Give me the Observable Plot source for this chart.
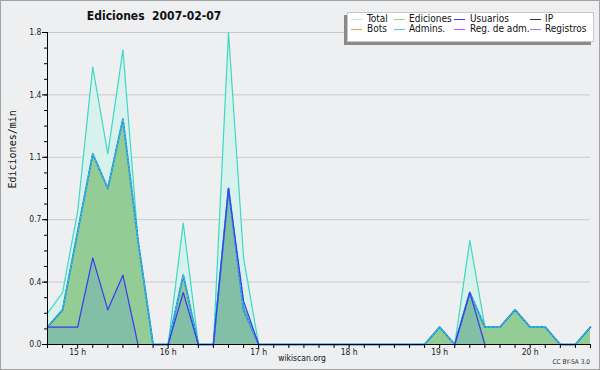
<!DOCTYPE html>
<html>
<head>
<meta charset="utf-8">
<script src="https://cdn.jsdelivr.net/npm/d3@7"></script>
<script src="https://cdn.jsdelivr.net/npm/@observablehq/plot@0.6"></script>
<style>
  html, body { margin: 0; padding: 0; background: #eeeff1; }
  #wrap { position: relative; width: 600px; height: 370px; overflow: hidden; background: #eeeff1; font-family: "DejaVu Sans Condensed", "DejaVu Sans", sans-serif; }
  #wrap svg { position: absolute; left: 0; top: 0; }
  .ov { position: absolute; white-space: pre; color: #111; line-height: 1; }
  #border { position: absolute; left: 0; top: 0; width: 598px; height: 368px; border: 1px solid #a4a4a4; pointer-events: none; }
  #legend { position: absolute; left: 347px; top: 12px; width: 245px; height: 28px; background: #fff; border: 1px solid #c8c8c8; box-shadow: -3px 3px 0 #8a8a8a; }
  .lg { position: absolute; font-size: 10px; color: #111; white-space: pre; line-height: 1; }
  .lm { position: absolute; width: 11px; height: 1px; }
</style>
</head>
<body>
<div id="wrap">
  <div id="chart"></div>
  <div class="ov" id="title" style="left:0;width:308px;text-align:center;top:10px;font-size:12px;font-weight:bold;">Ediciones  2007-02-07</div>
  <div class="ov" style="left:254px;width:96px;text-align:center;top:354px;font-size:8.5px;">wikiscan.org</div>
  <div class="ov" style="right:10px;top:359px;font-size:6.5px;color:#333;">CC BY-SA 3.0</div>
  <div id="legend"></div>
  <div id="border"></div>
</div>
<script>
const times = ["14:40","14:50","15:00","15:10","15:20","15:30","15:40","15:50","16:00","16:10","16:20","16:30","16:40","16:50","17:00","17:10","17:20","17:30","17:40","17:50","18:00","18:10","18:20","18:30","18:40","18:50","19:00","19:10","19:20","19:30","19:40","19:50","20:00","20:10","20:20","20:30","20:40"];
const total     = [0.18,0.3,0.77,1.6,1.1,1.7,0.6,0,0,0.7,0,0,1.8,0.5,0,0,0,0,0,0,0,0,0,0,0,0,0.1,0,0.6,0.1,0.1,0.2,0.1,0.1,0,0,0.1];
const ediciones = [0.1,0.2,0.65,1.1,0.9,1.3,0.6,0,0,0.4,0,0,0.9,0.2,0,0,0,0,0,0,0,0,0,0,0,0,0.1,0,0.3,0.1,0.1,0.2,0.1,0.1,0,0,0.1];
const usuarios  = [0.1,0.1,0.1,0.5,0.2,0.4,0,0,0,0.3,0,0,0.9,0.25,0,0,0,0,0,0,0,0,0,0,0,0,0,0,0.3,0,0,0,0,0,0,0,0];
const yTickValues = [0, 0.36, 0.72, 1.08, 1.44, 1.8];
const hourLabels = ["15 h","16 h","17 h","18 h","19 h","20 h"];
const legendLabels = ["Total","Ediciones","Usuarios","IP","Bots","Admins.","Reg. de adm.","Registros"];
const legendColors = ["#b3ebe6","#96d996","#3b3be6","#333333","#f2a23c","#4fcbe0","#d24fe0","#8585f0"];

const toDate = s => { const [h, m] = s.split(":").map(Number); return new Date(Date.UTC(2007, 1, 7, h, m)); };
const data = times.map((t, i) => ({ t: toDate(t), total: total[i], ed: ediciones[i], us: usuarios[i] }));
const t0 = data[0].t, t1 = data[data.length - 1].t;
const tenMin = d3.utcMinute.every(10).range(t0, new Date(+t1 + 1));
const hours = hourLabels.map(s => new Date(Date.UTC(2007, 1, 7, parseInt(s), 0)));
const hourFmt = new Map(hours.map((h, i) => [+h, hourLabels[i]]));
const yMinor = d3.range(0, 21).map(i => i * 0.09);

const chart = Plot.plot({
  width: 600, height: 370,
  marginLeft: 47, marginRight: 10, marginTop: 32, marginBottom: 26,
  style: { background: "transparent", fontFamily: "DejaVu Sans Condensed, DejaVu Sans, sans-serif", fontSize: "8.5px", color: "#222" },
  x: { type: "utc", domain: [t0, t1] },
  y: { domain: [0, 1.8] },
  marks: [
    Plot.gridY(yTickValues, { stroke: "#c9c9c9", strokeOpacity: 1 }),
    Plot.areaY(data, { x: "t", y: "total", fill: "#d7f1ec" }),
    Plot.areaY(data, { x: "t", y: "ed", fill: "#93cc95" }),
    Plot.areaY(data, { x: "t", y: "us", fill: "#83bea7" }),
    Plot.lineY(data, { x: "t", y: "total", stroke: "#3dd8c6", strokeWidth: 1.2 }),
    Plot.lineY(data, { x: "t", y: "ed", stroke: "#1f86d8", strokeWidth: 1.8 }),
    Plot.lineY(data, { x: "t", y: "ed", stroke: "#3fd0e0", strokeWidth: 1, strokeDasharray: "2,2" }),
    Plot.lineY(data, { x: "t", y: "us", stroke: "#3a3af0", strokeWidth: 1.2 }),
    Plot.axisY(yMinor, { tickSize: 3, tickFormat: () => "", stroke: "#000", label: null }),
    Plot.axisY(yTickValues, { tickSize: 5, tickPadding: 1, tickFormat: d => d.toFixed(1), stroke: "#000", fill: "#222", label: null }),
    Plot.axisX(tenMin, { tickSize: 4, tickFormat: () => "", stroke: "#000", label: null }),
    Plot.axisX(hours, { tickSize: 0, tickPadding: 4, tickFormat: d => hourFmt.get(+d), fill: "#222", label: null }),
    Plot.ruleY([0], { stroke: "#000" }),
    Plot.ruleX([t0], { stroke: "#000" }),
    Plot.text(["Ediciones/min"], { frameAnchor: "left", dx: -35, rotate: -90, text: d => d, fontFamily: "DejaVu Sans Mono, monospace", fontSize: 10, fill: "#111" })
  ]
});
document.getElementById("chart").appendChild(chart);

// legend
const lg = document.getElementById("legend");
const colX = [3, 46, 106, 182];
const textX = [19, 61, 122, 197];
const rowY = [6, 16];
legendLabels.forEach((lab, i) => {
  const c = i % 4, r = Math.floor(i / 4);
  const m = document.createElement("div");
  m.className = "lm";
  m.style.left = colX[c] + "px";
  m.style.top = rowY[r] + "px";
  m.style.background = legendColors[i];
  lg.appendChild(m);
  const t = document.createElement("div");
  t.className = "lg";
  t.style.left = textX[c] + "px";
  t.style.top = (rowY[r] - 5) + "px";
  t.textContent = lab;
  lg.appendChild(t);
});
</script>
</body>
</html>
